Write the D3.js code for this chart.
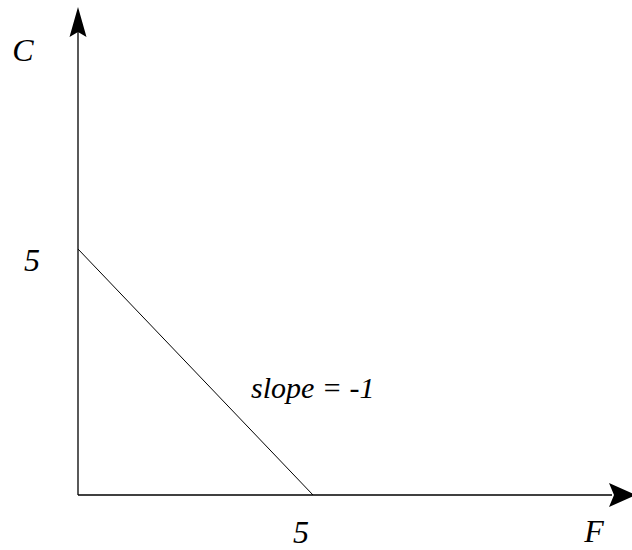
<!DOCTYPE html>
<html>
<head>
<meta charset="utf-8">
<script src="https://cdn.jsdelivr.net/npm/d3@7"></script>
<style>
  body { margin: 0; background: #fff; }
</style>
</head>
<body>
<div class="chart"></div>
<script>
var chartOptions = {
  width: 632,
  height: 550,
  font: "'Liberation Serif', 'Times New Roman', 'DejaVu Serif', serif"
}

// data
var fValues = [0, 5];
var cValues = [5, 0];
var tickValues = [5];
var axisNames = ['F', 'C'];
var slopeLabel = 'slope = -1';

var svg = d3.select('.chart').append('svg')
            .attr('width', chartOptions.width)
            .attr('height', chartOptions.height);

var x = d3.scaleLinear().domain([0, 5]).range([78, 313]);
var y = d3.scaleLinear().domain([0, 5]).range([495, 249]);

// small helper so every label gets the serif italic look
var addText = function(px, py, str, anchor, size){
  return svg.append('text')
            .attr('x', px).attr('y', py)
            .attr('text-anchor', anchor || 'start')
            .style('font-family', chartOptions.font)
            .style('font-style', 'italic')
            .style('font-size', (size || 32) + 'px')
            .attr('fill', '#000')
            .text(str);
}

// x axis
svg.append('line')
   .attr('x1', x(0)).attr('y1', y(0))
   .attr('x2', 612).attr('y2', y(0))
   .attr('stroke', '#000').attr('stroke-width', 1.3);
svg.append('path')
   .attr('d', 'M0,0 L-27,-12 L-22,0 L-27,12 Z')
   .attr('transform', 'translate(636,' + y(0) + ')')
   .attr('fill', '#000');

// y axis
svg.append('line')
   .attr('x1', x(0)).attr('y1', y(0))
   .attr('x2', x(0)).attr('y2', 30)
   .attr('stroke', '#000').attr('stroke-width', 1.3);
svg.append('path')
   .attr('d', 'M0,0 L-30,-8.5 L-25,0 L-30,8.5 Z')
   .attr('transform', 'translate(' + x(0) + ',7) rotate(-90)')
   .attr('fill', '#000');

// the line
var line = d3.line()
             .x(function(d, i){ return x(fValues[i]); })
             .y(function(d, i){ return y(cValues[i]); });

svg.append('path')
   .datum(fValues)
   .attr('d', line)
   .attr('fill', 'none')
   .attr('stroke', '#000')
   .attr('stroke-width', 1);

// tick labels, no tick marks
tickValues.forEach(function(d){
  addText(x(d) - 12, 543, d, 'middle');
  addText(32, y(d) + 22, d, 'middle');
});

// axis names
addText(594, 542, axisNames[0], 'middle');
addText(23, 61, axisNames[1], 'middle');

addText(251, 398, slopeLabel, 'start', 30);
</script>
</body>
</html>
